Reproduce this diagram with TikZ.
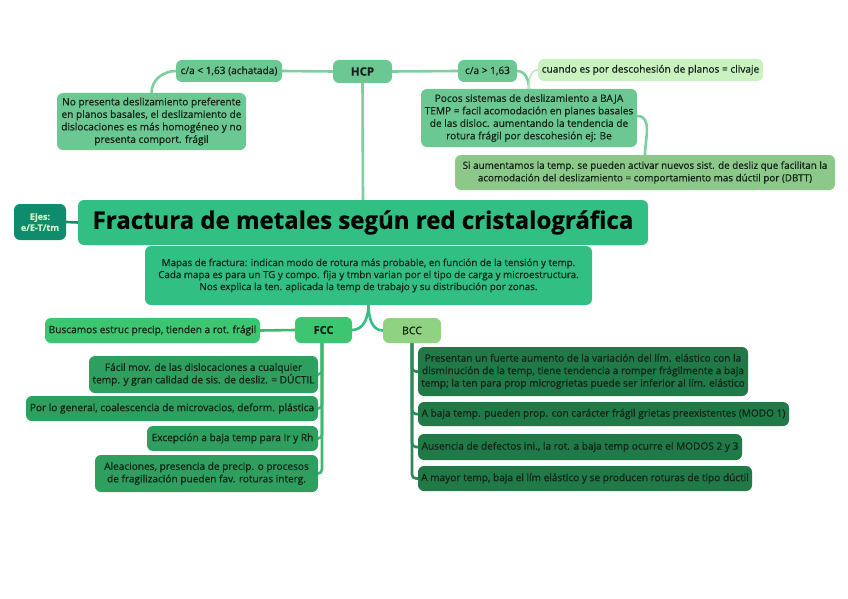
\documentclass[tikz,border=0pt]{standalone}
\usepackage{fontspec}
\setmainfont{Open Sans}[FakeBold=0.7]
\usetikzlibrary{backgrounds}
\definecolor{hcpc}{RGB}{108,200,146}
\definecolor{cuandoc}{RGB}{201,242,192}
\definecolor{sic}{RGB}{140,200,138}
\definecolor{ejesc}{RGB}{15,140,110}
\definecolor{titlec}{RGB}{49,191,132}
\definecolor{fccc}{RGB}{60,198,114}
\definecolor{fccchild}{RGB}{46,159,94}
\definecolor{bccc}{RGB}{142,210,130}
\definecolor{bccchild}{RGB}{31,122,72}
\definecolor{hcpline}{RGB}{125,207,160}
\definecolor{fccline}{RGB}{61,184,112}
\definecolor{bccline}{RGB}{46,139,87}
\definecolor{txt}{RGB}{20,35,25}
\begin{document}
\begin{tikzpicture}[x=1pt,y=-1pt,
  box/.style={rounded corners=6pt, align=center, inner sep=2pt, text=txt,
     font=\fontsize{10.1}{12.5}\selectfont},
  conn/.style={line width=2.6pt, line cap=round}]
\useasboundingbox (0,0) rectangle (848,599);
% HCP branch
\node[box, fill=hcpc, minimum width=59pt, minimum height=23pt, font=\fontsize{11.5}{13}\selectfont\bfseries] (hcp) at (362.5,71.5) {HCP};
\node[box, fill=hcpc, minimum width=106pt, minimum height=22pt] (calt) at (229,71) {c/a < 1,63 (achatada)};
\node[box, fill=hcpc, minimum width=189pt, minimum height=57pt] (nopres) at (151.5,121.5) {No presenta deslizamiento preferente\\en planos basales, el deslizamiento de\\dislocaciones es más homogéneo y no\\presenta comport. frágil};
\node[box, fill=hcpc, minimum width=59pt, minimum height=22pt] (cagt) at (487.5,71) {c/a > 1,63};
\node[box, fill=cuandoc, minimum width=225pt, minimum height=22pt] (cuando) at (650.5,70) {cuando es por descohesión de planos = clivaje};
\node[box, fill=hcpc, minimum width=216pt, minimum height=58pt] (pocos) at (529,118) {Pocos sistemas de deslizamiento a BAJA\\TEMP = facil acomodación en planes basales\\de las disloc. aumentando la tendencia de\\rotura frágil por descohesión ej: Be};
\node[box, fill=sic, minimum width=380pt, minimum height=35pt, font=\fontsize{9.85}{12.5}\selectfont] (si) at (645,172.5) {Si aumentamos la temp. se pueden activar nuevos sist. de desliz que facilitan la\\acomodación del deslizamiento = comportamiento mas dúctil por (DBTT)};
% centre
\node[box, fill=ejesc, minimum width=52pt, minimum height=36pt, text=cuandoc, font=\fontsize{9}{11}\selectfont\bfseries] (ejes) at (40,222) {Ejes:\\e/E-T/tm};
\node[box, fill=titlec, minimum width=447pt, minimum height=59pt, font=\fontsize{9.8}{12}\selectfont] (mapas) at (368.5,275.5) {Mapas de fractura: indican modo de rotura más probable, en función de la tensión y temp.\\Cada mapa es para un TG y compo. fija y tmbn varian por el tipo de carga y microestructura.\\Nos explica la ten. aplicada la temp de trabajo y su distribución por zonas.};
\node[box, fill=titlec, minimum width=570pt, minimum height=45pt, text=black!85!txt, font=\fontsize{24}{26}\selectfont\bfseries] (title) at (363,222.5) {Fractura de metales según red cristalográfica};
% FCC branch
\node[box, fill=fccc, minimum width=57pt, minimum height=26pt, font=\fontsize{11}{12}\selectfont\bfseries] (fcc) at (323.5,330) {FCC};
\node[box, fill=fccc, minimum width=215pt, minimum height=25pt] (busc) at (152.5,330.5) {Buscamos estruc precip, tienden a rot. frágil};
\node[box, fill=fccchild, minimum width=229pt, minimum height=37pt] (facil) at (203.5,374.5) {Fácil mov. de las dislocaciones a cualquier\\temp. y gran calidad de sis. de desliz. = DÚCTIL};
\node[box, fill=fccchild, minimum width=292pt, minimum height=25pt] (porlo) at (172,408.5) {Por lo general, coalescencia de microvacios, deform. plástica};
\node[box, fill=fccchild, minimum width=171pt, minimum height=25pt] (excep) at (232.5,438.5) {Excepción a baja temp para Ir y Rh};
\node[box, fill=fccchild, minimum width=223pt, minimum height=37pt] (aleac) at (206.5,473.5) {Aleaciones, presencia de precip. o procesos\\de fragilización pueden fav. roturas interg.};
% BCC branch
\node[box, fill=bccc, minimum width=58pt, minimum height=25pt, font=\fontsize{10.5}{12}\selectfont] (bcc) at (412,330.5) {BCC};
\node[box, fill=bccchild, minimum width=330pt, minimum height=49pt] (pres) at (583,371.5) {Presentan un fuerte aumento de la variación del lím. elástico con la\\disminución de la temp, tiene tendencia a romper frágilmente a baja\\temp; la ten para prop microgrietas puede ser inferior al lím. elástico};
\node[box, fill=bccchild, minimum width=371pt, minimum height=24pt] (abaja) at (603.5,414) {A baja temp. pueden prop. con carácter frágil grietas preexistentes (MODO 1)};
\node[box, fill=bccchild, minimum width=324pt, minimum height=26pt] (ausen) at (580,447) {Ausencia de defectos ini., la rot. a baja temp ocurre el MODOS 2 y 3};
\node[box, fill=bccchild, minimum width=334pt, minimum height=25pt] (amayor) at (585,478.5) {A mayor temp, baja el lím elástico y se producen roturas de tipo dúctil};
% connectors
\begin{scope}[on background layer]
\draw[conn, hcpline] (hcp.south) -- (title.north);
\draw[conn, hcpline] (hcp.west) -- (calt.east);
\draw[conn, hcpline] (hcp.east) -- (cagt.west);
\draw[conn, hcpline] (calt.west) to[out=180,in=90] (nopres.north);
\draw[conn, hcpline] (cagt.east) to[out=0,in=90] (pocos.north);
\draw[conn, cuandoc!80!hcpline, line width=1.6pt] (cuando.west) to[out=180,in=90] (pocos.north);
\draw[conn, hcpline] ([yshift=2pt]pocos.east) to[out=0,in=90] (si.north);
\draw[conn, ejesc] (ejes.east) -- (title.west);
\draw[conn, titlec] (mapas.south) to[out=270,in=0] (fcc.east);
\draw[conn, titlec] (mapas.south) to[out=270,in=180] (bcc.west);
\draw[conn, fccline] (busc.east) -- (fcc.west);
\foreach \c in {facil,porlo,excep,aleac}
  \draw[conn, fccline, rounded corners=4pt] ([xshift=-1.5pt]fcc.south) |- (\c.east);
\foreach \c in {pres,abaja,ausen,amayor}
  \draw[conn, bccline, rounded corners=4pt] (bcc.south) |- (\c.west);
\end{scope}
\end{tikzpicture}
\end{document}
